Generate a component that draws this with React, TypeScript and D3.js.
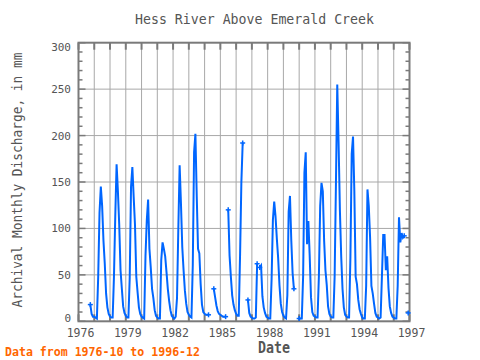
import React from "react";
import * as d3 from "d3";

const START_YEAR = 1976;
const START_MONTH = 10; // October
const END_YEAR = 1997;

// Monthly discharge (mm), 1976-10 .. 1996-12, null = missing
const discharge: (number | null)[] = [
  // 1976 Oct-Dec
  18, 8, 5,
  // 1977
  5, 4, 3, 48, 117, 145, 124, 87, 62, 30, 15, 8,
  // 1978
  5, 4, 4, 48, 114, 169, 140, 104, 55, 35, 16, 9,
  // 1979
  6, 4, 4, 47, 145, 166, 134, 104, 48, 31, 15, 8,
  // 1980
  5, 4, 3, 70, 109, 131, 78, 58, 35, 25, 12, 6,
  // 1981
  4, 3, 3, 66, 85, 78, 70, 53, 35, 22, 12, 6,
  // 1982
  4, 3, 5, 25, 100, 168, 127, 80, 55, 33, 19, 10,
  // 1983
  7, 5, 4, 60, 182, 202, 136, 78, 73, 40, 18, 10,
  // 1984
  8, 7, 7, 7, null, null, null, 35, 26, 17, 11, 8,
  // 1985
  7, 6, 5, 5, 5, null, 120, 71, 48, 28, 18, 12,
  // 1986
  8, 6, 6, 71, 150, 192, null, null, null, 23, 9, 5,
  // 1987
  4, 3, 3, 4, 62, null, 58, 60, 27, 15, 9, 5,
  // 1988
  4, 3, 3, 45, 109, 129, 113, 89, 68, 39, 19, 10,
  // 1989
  6, 4, 3, 28, 118, 135, 87, 52, 35, null, null, null,
  // 1990
  3, 3, 3, 48, 160, 182, 83, 108, 71, 26, 10, 6,
  // 1991
  5, 4, 4, 48, 124, 149, 140, 87, 55, 39, 16, 8,
  // 1992
  5, 4, 4, 48, 148, 255, 193, 120, 70, 35, 15, 7,
  // 1993
  5, 4, 4, 68, 180, 199, 140, 48, 40, 23, 13, 8,
  // 1994
  4, 3, 3, 38, 142, 124, 90, 38, 30, 19, 9, 5,
  // 1995
  4, 3, 4, 48, 93, 93, 55, 70, 36, 16, 9, 5,
  // 1996
  4, 3, 3, 38, 112, 85, 95, 90, 92, null, null, 9,
];

const xTickYears = [1976, 1979, 1982, 1985, 1988, 1991, 1994, 1997];
const yTickValues = [0, 50, 100, 150, 200, 250, 300];

const TITLE = "Hess River Above Emerald Creek";
const Y_LABEL = "Archival Monthly Discharge, in mm";
const X_LABEL = "Date";
const FOOTER = "Data from 1976-10 to 1996-12";

type Pt = { t: number; v: number | null };

export default function App() {
  const left = 78.5, right = 409.5, top = 42.7, bottom = 321.3;
  const x = d3.scaleLinear().domain([START_YEAR, END_YEAR]).range([left, right]);
  const y = d3.scaleLinear().domain([0, 300]).range([bottom, top]);

  const pts: Pt[] = discharge.map((v, i) => ({
    t: START_YEAR + (START_MONTH - 1 + i) / 12,
    v,
  }));

  const line = d3
    .line<Pt>()
    .defined((d) => d.v != null)
    .x((d) => x(d.t))
    .y((d) => y(d.v as number));

  const ends = pts.filter((d, i) => {
    if (d.v == null) return false;
    const prev = i > 0 ? pts[i - 1].v : null;
    const next = i < pts.length - 1 ? pts[i + 1].v : null;
    return prev == null || next == null;
  });

  const years = d3.range(START_YEAR, END_YEAR + 1);
  const minor = d3.range(0, 301, 10);
  const font = "'DejaVu Sans Mono', monospace";
  const gray = "#7a7a7a";
  const grid = "#a8a8a8";
  const labelY = (v: number) => Math.min(Math.max(y(v), top + 4), bottom - 3) + 4;

  return (
    <svg
      width={480}
      height={360}
      style={{ position: "absolute", left: 0, top: 0, background: "#fff" }}
    >
      {/* grid */}
      {years.slice(1, -1).map((yr) => (
        <line key={"gx" + yr} x1={x(yr)} x2={x(yr)} y1={top} y2={bottom} stroke={grid} strokeWidth={1} />
      ))}
      {yTickValues.slice(1, -1).map((v) => (
        <line key={"gy" + v} x1={left} x2={right} y1={y(v)} y2={y(v)} stroke={grid} strokeWidth={1} />
      ))}
      {/* year ticks top & bottom */}
      {years.map((yr) => (
        <g key={"yt" + yr}>
          <line x1={x(yr)} x2={x(yr)} y1={top} y2={top + 7} stroke={gray} strokeWidth={2} />
          <line x1={x(yr)} x2={x(yr)} y1={bottom} y2={bottom - 7} stroke={gray} strokeWidth={2} />
        </g>
      ))}
      {/* y ticks left & right */}
      {minor.map((v) => {
        const len = v % 50 === 0 ? 7 : 4;
        return (
          <g key={"vt" + v}>
            <line x1={left} x2={left + len} y1={y(v)} y2={y(v)} stroke={gray} strokeWidth={1.5} />
            <line x1={right} x2={right - len} y1={y(v)} y2={y(v)} stroke={gray} strokeWidth={1.5} />
          </g>
        );
      })}
      {/* frame */}
      <rect x={left} y={top} width={right - left} height={bottom - top} fill="none" stroke={gray} strokeWidth={2} />

      {/* data */}
      <path d={line(pts) || ""} fill="none" stroke="#0066ff" strokeWidth={2} strokeLinejoin="miter" />
      {ends.map((d, i) => (
        <g key={"m" + i} stroke="#0066ff" strokeWidth={1.5}>
          <line x1={x(d.t) - 2.5} x2={x(d.t) + 2.5} y1={y(d.v as number)} y2={y(d.v as number)} />
          <line x1={x(d.t)} x2={x(d.t)} y1={y(d.v as number) - 2.5} y2={y(d.v as number) + 2.5} />
        </g>
      ))}

      {/* y tick labels */}
      {yTickValues.map((v) => (
        <text key={"yl" + v} x={71} y={labelY(v)} textAnchor="end" fontFamily={font} fontSize={11} fill="#555">
          {v}
        </text>
      ))}
      {/* x tick labels */}
      {xTickYears.map((yr) => (
        <text key={"xl" + yr} x={x(yr) + 2} y={337} textAnchor="middle" fontFamily={font} fontSize={11.5} fill="#555">
          {yr}
        </text>
      ))}

      {/* title */}
      <text x={254.5} y={24} textAnchor="middle" fontFamily={font} fontSize={14.5} fill="#555"
        textLength={239} lengthAdjust="spacingAndGlyphs">
        {TITLE}
      </text>
      {/* y label */}
      <text transform={`translate(22,${(top + bottom) / 2 - 2}) rotate(-90)`} textAnchor="middle"
        fontFamily={font} fontSize={14} fill="#555" textLength={255} lengthAdjust="spacingAndGlyphs">
        {Y_LABEL}
      </text>
      {/* x label */}
      <text x={274} y={353} textAnchor="middle" fontFamily={font} fontSize={15.5} fontWeight="bold" fill="#555"
        textLength={32} lengthAdjust="spacingAndGlyphs">
        {X_LABEL}
      </text>
      {/* footer */}
      <text x={5} y={356} fontFamily={font} fontSize={12} fontWeight="bold" fill="#ff6600"
        textLength={195} lengthAdjust="spacingAndGlyphs">
        {FOOTER}
      </text>
    </svg>
  );
}
